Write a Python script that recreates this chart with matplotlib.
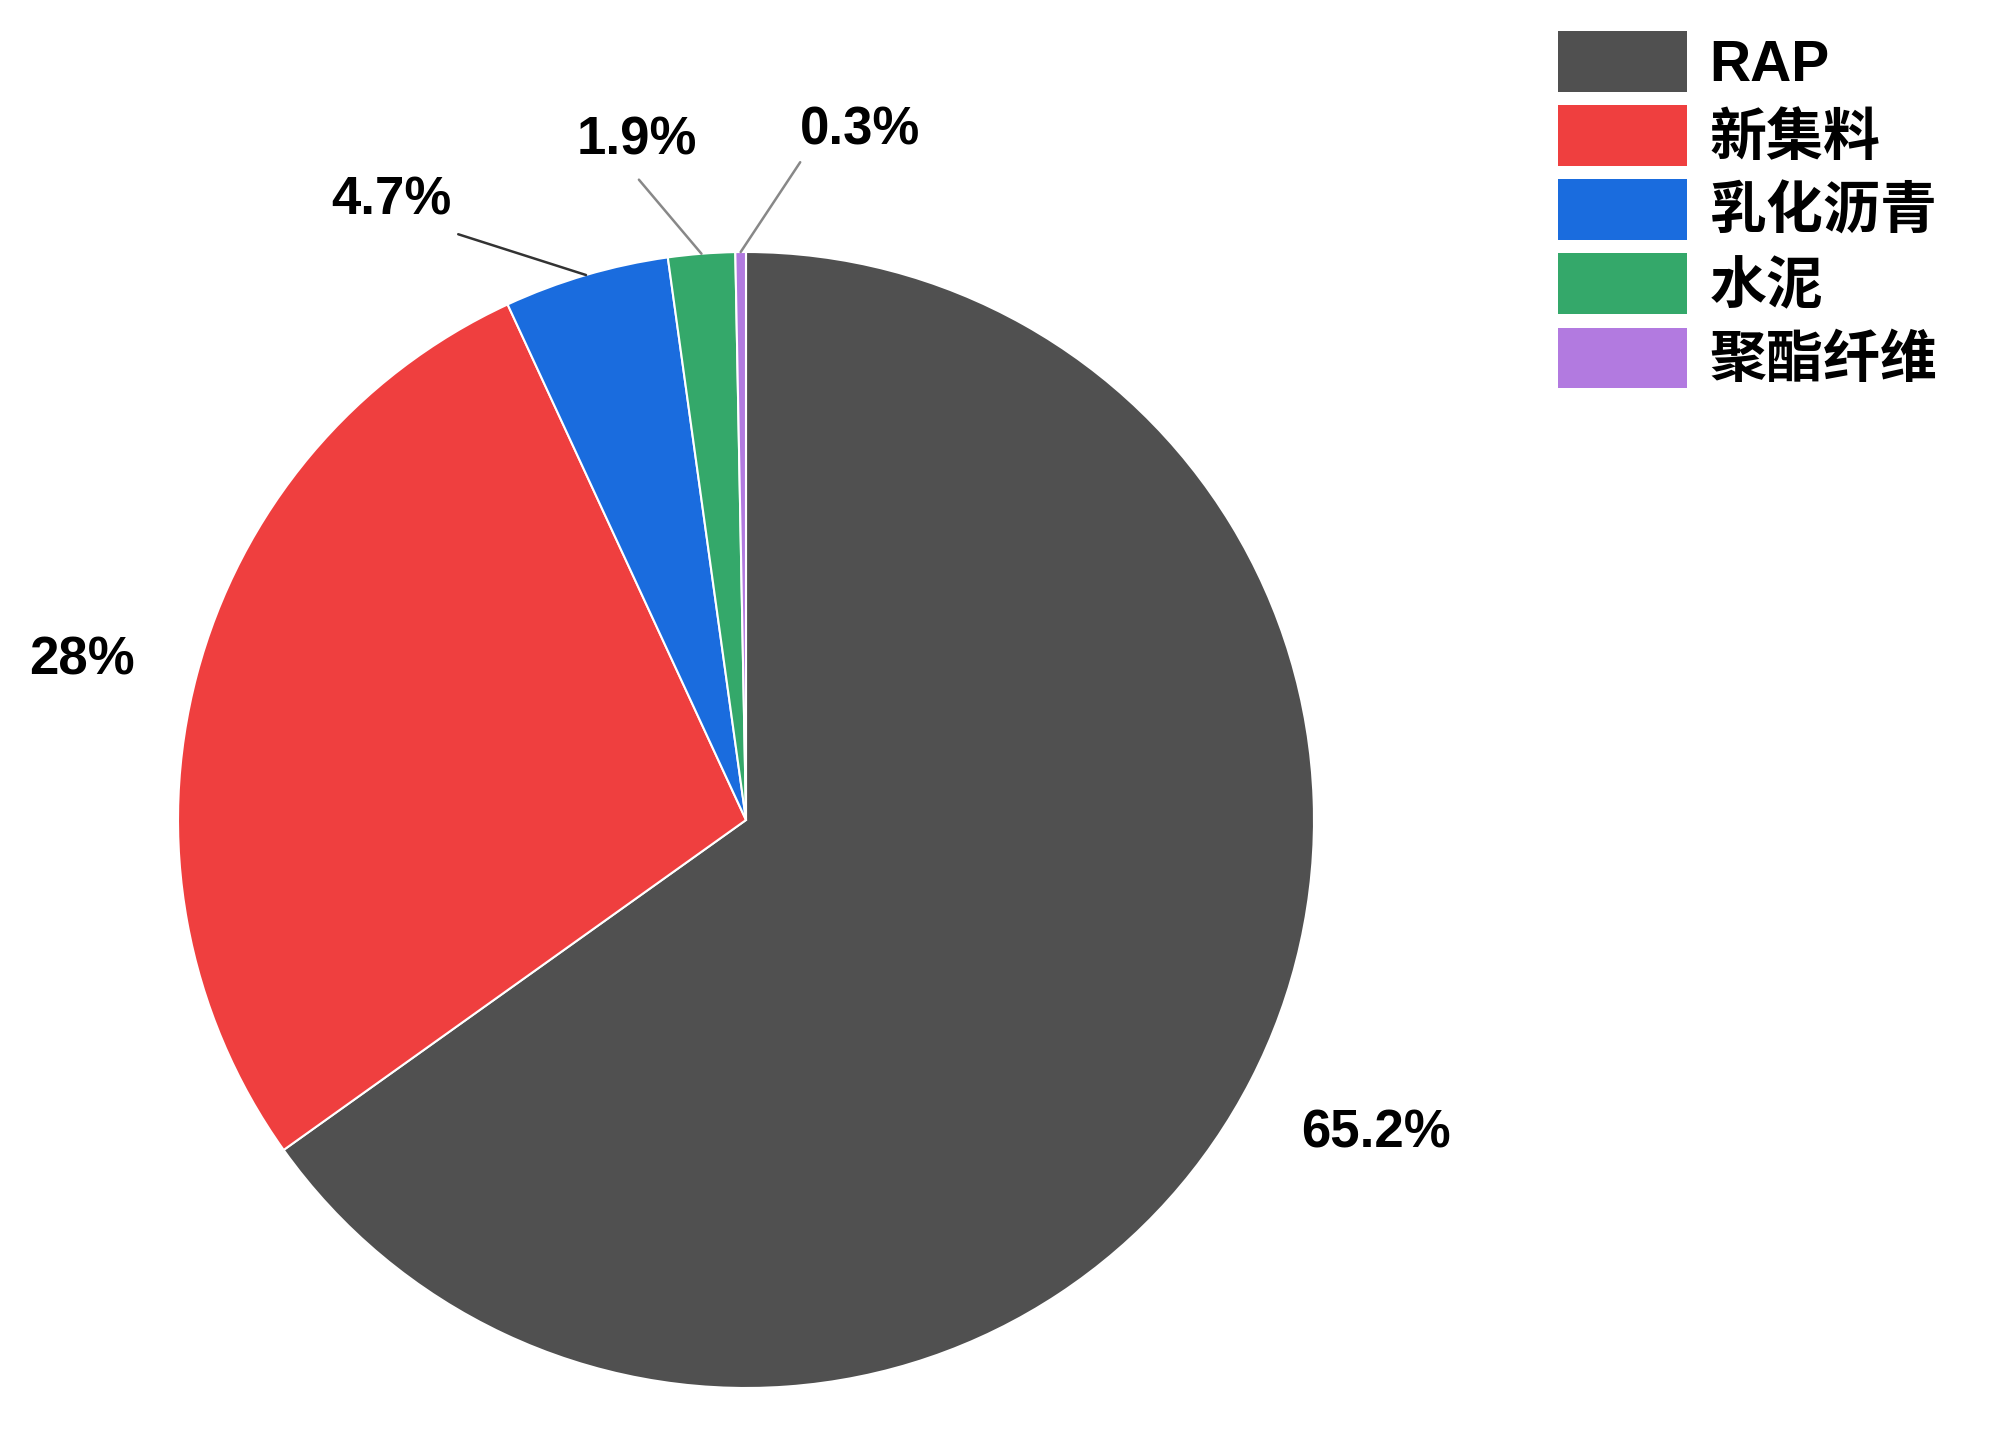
import numpy as np
import matplotlib
matplotlib.use("Agg")
import matplotlib.pyplot as plt

categories = ["RAP", "新集料", "乳化沥青", "水泥", "聚酯纤维"]
values = [65.2, 28.0, 4.7, 1.9, 0.3]
pct_labels = ["65.2%", "28%", "4.7%", "1.9%", "0.3%"]
colors = ["#505050", "#EF3F3F", "#1A6CDE", "#34A86A", "#B27AE0"]

# label placement styles: (angle offset for line end, radius of line end,
#                          angle offset for text, radius of text, line color)
leader = {
    2: (9.8, 1.149, 13.4, 1.257, "#333333"),
    3: (5.0, 1.143, 4.6, 1.211, "#888888"),
    4: (-5.25, 1.162, -9.95, 1.231, "#888888"),
}
plain = {0: (0.8, 1.238), 1: (1.3, 1.202)}

W, H = 2000, 1432
fig = plt.figure(figsize=(W / 100, H / 100), dpi=100)
cx, cy, R = 746, 820, 568
ax = fig.add_axes([(cx - R) / W, (H - cy - R) / H, 2 * R / W, 2 * R / H])

wedges, _ = ax.pie(values, colors=colors, startangle=90, counterclock=False,
                   radius=1.0, wedgeprops=dict(edgecolor="white", linewidth=1.5))
ax.set_xlim(-1, 1)
ax.set_ylim(-1, 1)
ax.set_aspect("equal")
ax.axis("off")

lab_font = dict(family=["Liberation Sans", "DejaVu Sans"], fontweight="bold",
                fontsize=38, color="black")

for i, w in enumerate(wedges):
    mid = np.deg2rad((w.theta1 + w.theta2) / 2)
    if i in plain:
        da, r = plain[i]
        a = mid + np.deg2rad(da)
        ax.text(r * np.cos(a), r * np.sin(a), pct_labels[i], ha="center",
                va="center", clip_on=False, **lab_font)
    else:
        dl, rl, dt, rt, lc = leader[i]
        al = mid + np.deg2rad(dl)
        at = mid + np.deg2rad(dt)
        ax.plot([np.cos(mid), rl * np.cos(al)], [np.sin(mid), rl * np.sin(al)],
                color=lc, lw=1.8, clip_on=False, solid_capstyle="round")
        ax.text(rt * np.cos(at), rt * np.sin(at), pct_labels[i], ha="center",
                va="center", clip_on=False, **lab_font)

leg = ax.legend(wedges, categories, loc="upper left",
                bbox_to_anchor=(1558 / W, 1 - 31 / H),
                bbox_transform=fig.transFigure, frameon=False, borderpad=0,
                borderaxespad=0, handlelength=2.26, handleheight=1.27,
                handletextpad=0.4, labelspacing=0.22,
                prop=dict(family=["Liberation Sans", "Noto Sans CJK SC"],
                          size=41, weight="bold"))
for p in leg.get_patches():
    p.set_edgecolor("none")

fig.savefig("out.png", dpi=100, facecolor="white")
